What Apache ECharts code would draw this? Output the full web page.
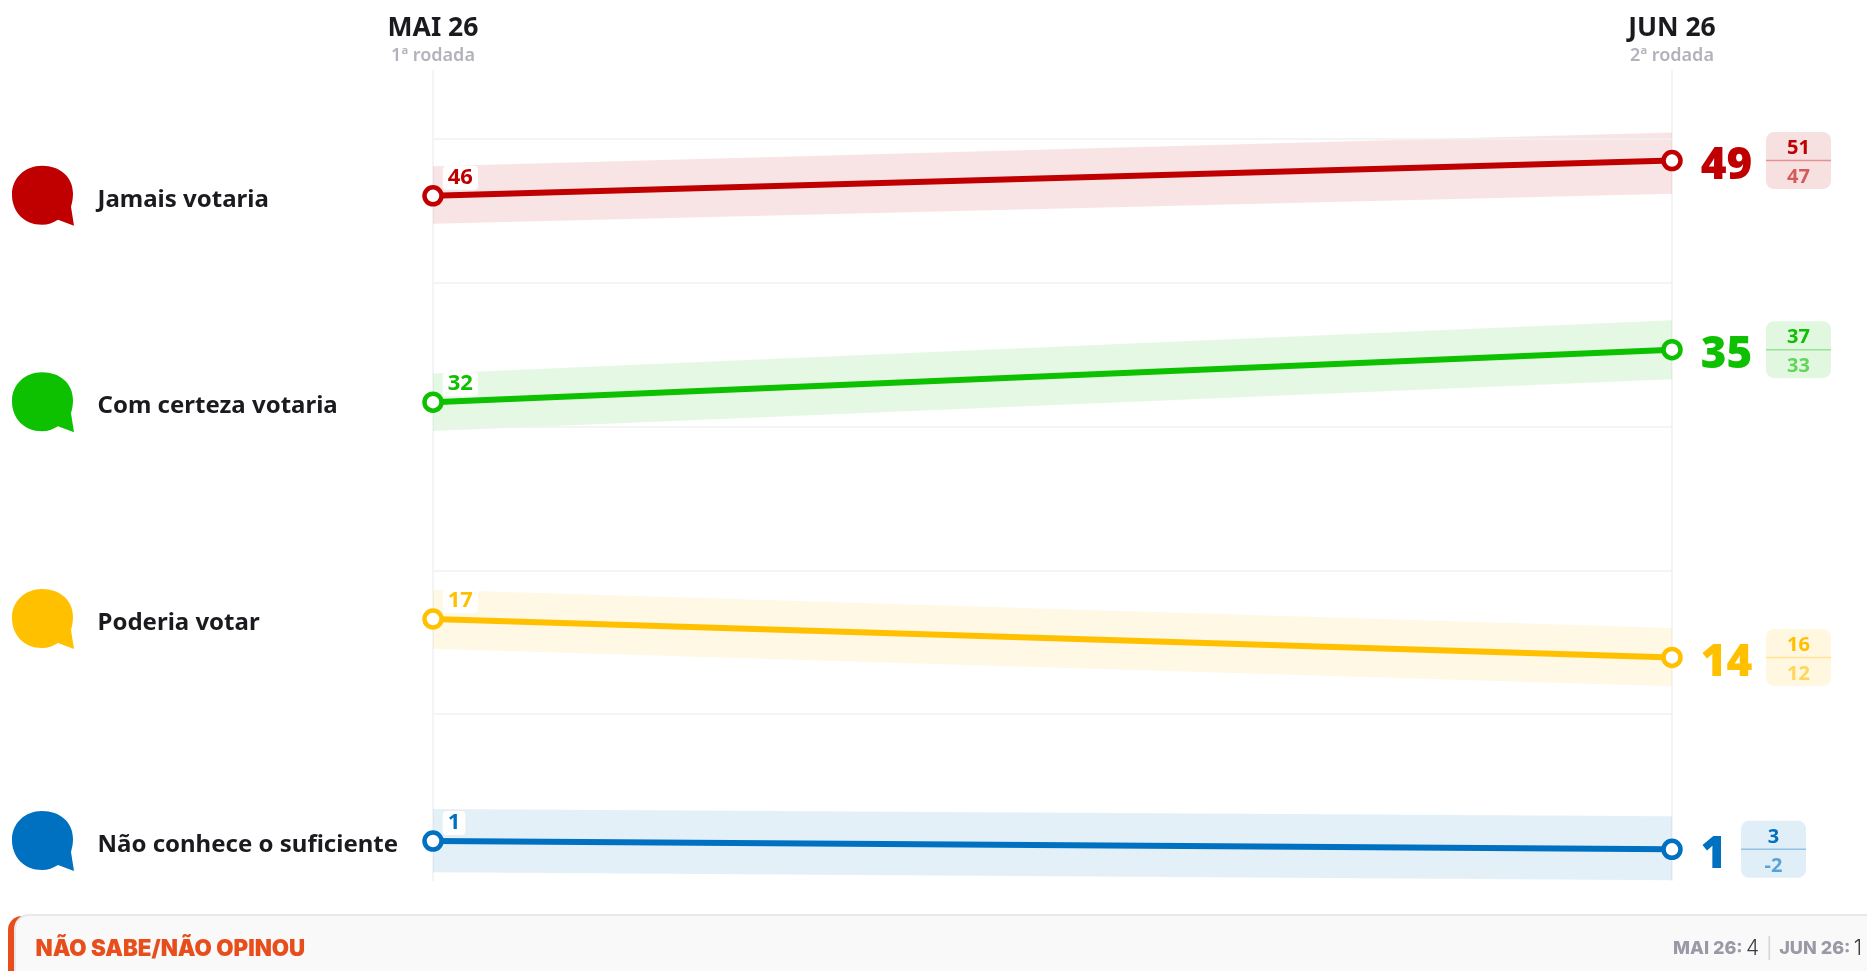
<!DOCTYPE html>
<html><head><meta charset="utf-8">
<style>html,body{margin:0;padding:0;background:#fff}#c{width:1867px;height:971px}</style>
<script src="https://cdn.jsdelivr.net/npm/echarts@6/dist/echarts.min.js"></script>
</head><body><div id="c"></div>
<script>
const categories = ['MAI 26', 'JUN 26'];
const rounds = ['1ª rodada', '2ª rodada'];
const rowNames = ['Jamais votaria', 'Com certeza votaria', 'Poderia votar', 'Não conhece o suficiente'];
const rowColors = ['#c00000', '#0dc000', '#ffc000', '#0070c0'];
const plotJamais = [46.05, 48.5];
const plotCerteza = [31.7, 35.35];
const plotPoderia = [16.62, 13.95];
const plotConhece = [1.18, 0.6];
const upperJamais = [48.1, 50.45];
const lowerJamais = [44.1, 46.2];
const upperCerteza = [33.7, 37.4];
const lowerCerteza = [29.7, 33.3];
const upperPoderia = [18.65, 16.0];
const lowerPoderia = [14.55, 11.95];
const upperConhece = [3.4, 2.9];
const lowerConhece = [-1.0, -1.55];
const shownFirst = [46, 32, 17, 1];
const shownLast = [49, 35, 14, 1];
const marginHigh = [51, 37, 16, 3];
const marginLow = [47, 33, 12, -2];
const gridValues = [10, 20, 30, 40, 50];
const footerName = 'NÃO SABE/NÃO OPINOU';
const footerValues = [4, 1];

const plots = [plotJamais, plotCerteza, plotPoderia, plotConhece];
const uppers = [upperJamais, upperCerteza, upperPoderia, upperConhece];
const lowers = [lowerJamais, lowerCerteza, lowerPoderia, lowerConhece];
const FONT = '"Noto Sans", sans-serif';
const BUBBLE = 'M30 0 C48 0 61 11 61 28 C61 33 60 37 59 41 L62 60 L46 54 C41 57 36 59 30 59 C12 59 0 46 0 29 C0 12 13 0 30 0 Z';

function rowRender(i) {
  return function (params, api) {
    const c = rowColors[i];
    const pLeft = api.coord([0, plots[i][0]]);
    const pRight = api.coord([1, plots[i][1]]);
    const pts = [
      api.coord([0, uppers[i][0]]), api.coord([1, uppers[i][1]]),
      api.coord([1, lowers[i][1]]), api.coord([0, lowers[i][0]])
    ];
    const boxX = pRight[0] + (String(shownLast[i]).length > 1 ? 94 : 69);
    const boxW = 65, boxH = 57;
    const cx = boxX + boxW / 2;
    return {
      type: 'group',
      children: [
        { type: 'polygon', shape: { points: pts }, style: { fill: c, opacity: 0.105 } },
        { type: 'path', shape: { pathData: BUBBLE, x: 12, y: pLeft[1] - 30, width: 62, height: 60 }, style: { fill: c } },
        { type: 'text', x: 97.5, y: pLeft[1] + 4, style: { text: rowNames[i], fill: '#1a1a1f', font: '700 24px ' + FONT, textVerticalAlign: 'middle' } },
        { type: 'rect', shape: { x: boxX, y: pRight[1] - boxH / 2, width: boxW, height: boxH, r: 8 }, style: { fill: c, opacity: 0.12 } },
        { type: 'line', shape: { x1: boxX, y1: pRight[1], x2: boxX + boxW, y2: pRight[1] }, style: { stroke: c, lineWidth: 1.5, opacity: 0.35 } },
        { type: 'text', x: cx, y: pRight[1] - 12, style: { text: String(marginHigh[i]), fill: c, font: '700 20px ' + FONT, textAlign: 'center', textVerticalAlign: 'middle' } },
        { type: 'text', x: cx, y: pRight[1] + 17, style: { text: String(marginLow[i]), fill: c, opacity: 0.6, font: '700 20px ' + FONT, textAlign: 'center', textVerticalAlign: 'middle' } }
      ]
    };
  };
}

const series = [];
rowNames.forEach((name, i) => {
  series.push({
    type: 'custom', name: name + ' faixa', coordinateSystem: 'cartesian2d', clip: false, z: 1,
    silent: true, data: [[0, plots[i][0]]], renderItem: rowRender(i), encode: { x: 0, y: 1 }
  });
});
rowNames.forEach((name, i) => {
  series.push({
    type: 'line', name: name, clip: false, z: 5, symbol: 'circle', symbolSize: 17,
    showAllSymbol: true, silent: true,
    lineStyle: { color: rowColors[i], width: 6 },
    itemStyle: { color: '#fff', borderColor: rowColors[i], borderWidth: 4.5 },
    data: [
      { value: plots[i][0], label: {
          show: true, position: 'right', distance: 0, offset: [-1, -18],
          formatter: String(shownFirst[i]), color: rowColors[i],
          fontFamily: FONT, fontWeight: 700, fontSize: 22, lineHeight: 24,
          backgroundColor: '#fff', borderRadius: 4, padding: [0, 5, 0, 5]
      } },
      { value: plots[i][1], label: {
          show: true, position: 'right', distance: 20, offset: [-2, 6],
          formatter: String(shownLast[i]), color: rowColors[i],
          fontFamily: FONT, fontWeight: 900, fontSize: 44
      } }
    ]
  });
});
series.push({
  type: 'line', name: 'grade', data: [], silent: true, z: 0,
  markLine: {
    silent: true, symbol: 'none', animation: false, label: { show: false },
    lineStyle: { color: '#f0f0f3', width: 1.5, type: 'solid' },
    data: gridValues.map(v => ({ yAxis: v }))
  }
});

const chart = echarts.init(document.getElementById('c'), null, { renderer: 'canvas' });
chart.setOption({
  animation: false,
  backgroundColor: '#fff',
  grid: { left: 433, right: 195, top: 70, height: 811 },
  xAxis: {
    type: 'category', position: 'top', boundaryGap: false, data: categories,
    axisLine: { show: false }, axisTick: { show: false },
    splitLine: { show: true, lineStyle: { color: '#f0f0f3', width: 1.5 } },
    axisLabel: {
      interval: 0, margin: 2, align: 'center',
      formatter: (v, idx) => '{a|' + v + '}\n{b|' + rounds[idx] + '}',
      rich: {
        a: { fontFamily: FONT, fontWeight: 700, fontSize: 26.5, color: '#1a1a1f', lineHeight: 32, align: 'center' },
        b: { fontFamily: FONT, fontWeight: 600, fontSize: 18, color: '#b2b2bc', lineHeight: 24, align: 'center' }
      }
    }
  },
  yAxis: { type: 'value', min: -1.6, max: 54.8, show: false, splitLine: { show: false } },
  series,
  graphic: [
    { type: 'rect', z: 10, shape: { x: 8, y: 916, width: 60, height: 80, r: 14 }, style: { fill: '#e84e1b' } },
    { type: 'rect', z: 11, shape: { x: 15, y: 915, width: 1870, height: 80, r: 14 }, style: { fill: '#f9f9fa', stroke: '#e8e8ed', lineWidth: 2 } },
    { type: 'text', z: 12, x: 35.5, y: 949, style: { text: footerName, fill: '#e84e1b', font: '900 22.3px Inter, sans-serif', textVerticalAlign: 'middle' } },
    { type: 'text', z: 12, x: 1862, y: 949, style: {
        text: '{l|' + categories[0] + ':} {v|' + footerValues[0] + '}  {s||}  {l|' + categories[1] + ':} {v|' + footerValues[1] + '}',
        textAlign: 'right', textVerticalAlign: 'middle',
        rich: {
          l: { font: '800 18px Inter, sans-serif', fill: '#9a9aa6' },
          v: { font: '300 21px Inter, sans-serif', fill: '#3c3c44' },
          s: { font: '400 20px Inter, sans-serif', fill: '#d5d5dc' }
        }
    } }
  ]
});
</script></body></html>
